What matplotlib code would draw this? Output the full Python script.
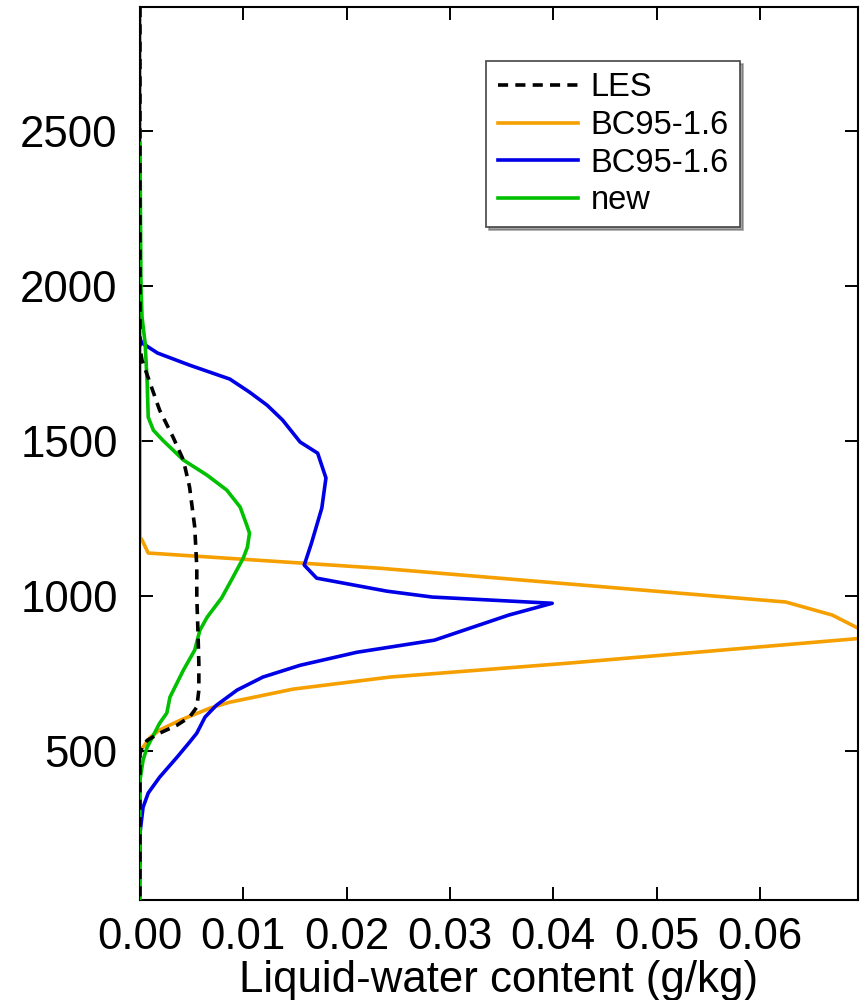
import numpy as np
import matplotlib.pyplot as plt

plt.rcParams['font.family'] = ['Liberation Sans', 'DejaVu Sans']

# LES profile (dashed black)
les_z = [2900, 2500, 2000, 1800, 1761, 1600, 1513, 1439, 1352, 1223, 1094, 997, 900,
         784, 697, 642, 610, 584, 558, 535, 513, 490, 300, 20]
les_q = [0.0, 0.0, 0.0, 0.0, 0.0002, 0.0019, 0.0032, 0.0042, 0.0048, 0.0053, 0.0055,
         0.0055, 0.0056, 0.0057, 0.0057, 0.0055, 0.0048, 0.0036, 0.0019, 0.0007,
         0.0002, 0.0, 0.0, 0.0]

# BC95-1.6 (orange)
bc_o_z = [2900, 2000, 1500, 1190, 1181, 1139, 1090, 981, 939, 900, 868, 784, 739, 700,
          671, 658, 639, 600, 568, 545, 513, 503, 300, 20]
bc_o_q = [0.0, 0.0, 0.0, 0.0, 0.0002, 0.0008, 0.0232, 0.0625, 0.0670, 0.0693, 0.0712,
          0.0415, 0.0242, 0.0148, 0.0106, 0.0087, 0.0068, 0.0039, 0.0019, 0.0010,
          0.0003, 0.0, 0.0, 0.0]

# BC95-1.6 (blue)
bc_b_z = [1830, 1816, 1810, 1784, 1745, 1700, 1658, 1616, 1568, 1497, 1461, 1381, 1284,
          1171, 1100, 1058, 1016, 997, 977, 939, 858, 819, 777, 739, 697, 648, 610,
          558, 529, 481, 416, 365, 319, 235, 140]
bc_b_q = [0.0, 0.0002, 0.0005, 0.0017, 0.0048, 0.0087, 0.0106, 0.0123, 0.0138, 0.0155,
          0.0172, 0.0180, 0.0176, 0.0166, 0.0159, 0.0171, 0.0239, 0.0283, 0.0399,
          0.0357, 0.0285, 0.0210, 0.0155, 0.0119, 0.0094, 0.0074, 0.0063, 0.0055,
          0.0048, 0.0036, 0.0019, 0.0008, 0.0003, 0.0, 0.0]

# new scheme (green)
new_z = [2460, 2000, 1900, 1816, 1687, 1577, 1535, 1503, 1439, 1390, 1342, 1287, 1223,
         1203, 1158, 1123, 1061, 994, 932, 890, 826, 761, 674, 623, 590, 545, 513,
         471, 406, 200, 20]
new_q = [0.0, 0.0001, 0.0002, 0.0005, 0.0007, 0.0008, 0.0013, 0.0022, 0.0042, 0.0065,
         0.0084, 0.0097, 0.0104, 0.0106, 0.0104, 0.0100, 0.0090, 0.0079, 0.0065,
         0.0058, 0.0053, 0.0042, 0.0029, 0.0026, 0.0019, 0.0012, 0.0007, 0.0003,
         0.0, 0.0, 0.0]

xticks = [0.00, 0.01, 0.02, 0.03, 0.04, 0.05, 0.06]
yticks = [500, 1000, 1500, 2000, 2500]

fig = plt.figure(figsize=(8.65, 10), dpi=100)
ax = fig.add_axes([0.1618, 0.1, 0.8302, 0.893])

lw = 2.6
l_o, = ax.plot(bc_o_q, bc_o_z, color='#F5A000', lw=lw, label='BC95-1.6', zorder=2)
l_b, = ax.plot(bc_b_q, bc_b_z, color='#0000E6', lw=lw, label='BC95-1.6', zorder=3)
l_g, = ax.plot(new_q, new_z, color='#00C000', lw=lw, label='new', zorder=4)
l_l, = ax.plot(les_q, les_z, color='black', lw=lw, ls=(0, (2.8, 2)), label='LES', zorder=5)

ax.set_xlim(0, 0.0695)
ax.set_ylim(20, 2900)
ax.set_xticks(xticks)
ax.set_xticklabels(['%.2f' % t for t in xticks])
ax.set_yticks(yticks)
ax.tick_params(direction='in', length=9.5, width=1.4, labelsize=31.5,
               top=True, right=True)
ax.tick_params(axis='x', pad=12)
ax.tick_params(axis='y', pad=16)
for s in ax.spines.values():
    s.set_linewidth(1.5)

ax.set_xlabel('Liquid-water content (g/kg)', fontsize=31.5, labelpad=2)

leg = ax.legend(handles=[l_l, l_o, l_b, l_g], loc='upper left',
                bbox_to_anchor=(0.482, 0.9395), borderaxespad=0,
                fontsize=23.5, frameon=True, fancybox=False, shadow=True,
                framealpha=1, edgecolor='#444444', borderpad=0.35,
                labelspacing=0.2, handlelength=2.48, handletextpad=0.37)
leg.get_frame().set_linewidth(1.2)

fig.savefig('out.png', dpi=100)
